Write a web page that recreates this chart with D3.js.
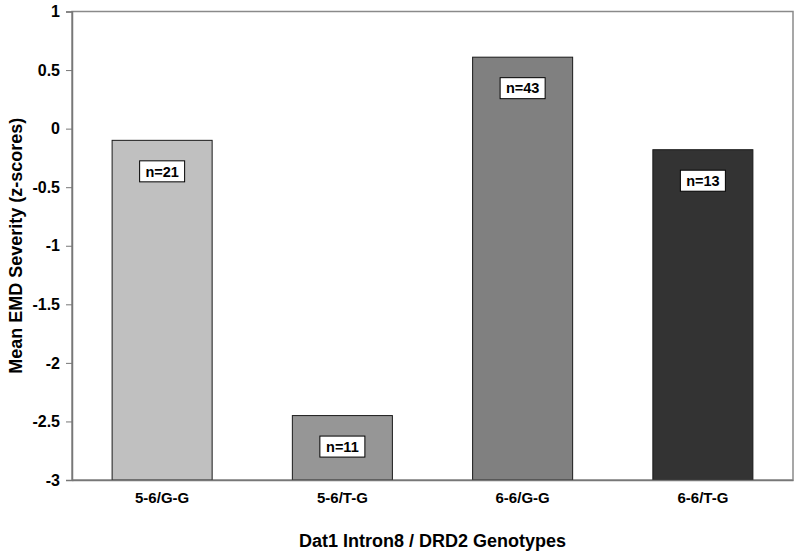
<!DOCTYPE html>
<html><head><meta charset="utf-8">
<script src="https://cdn.jsdelivr.net/npm/d3@7"></script>
<style>body{margin:0;background:#fff}svg{display:block}text{font-family:Arial,"Liberation Sans",sans-serif;font-weight:bold}</style>
</head><body>
<svg id="c" width="800" height="552"></svg>
<script>
const categories = ["5-6/G-G","5-6/T-G","6-6/G-G","6-6/T-G"];
const values = [-0.10, -2.45, 0.61, -0.18];
const nLabels = ["n=21","n=11","n=43","n=13"];
const colors = ["#C0C0C0","#969696","#808080","#333333"];
const yTicks = [1,0.5,0,-0.5,-1,-1.5,-2,-2.5,-3];

const svg = d3.select("#c");
const L=72, R=793, T=11.5, B=480;
const x = d3.scaleBand().domain(categories).range([L,R]).paddingInner(0.445).paddingOuter(0.2225);
const y = d3.scaleLinear().domain([-3,1]).range([B,T]);

// plot frame
svg.append("rect").attr("x",L).attr("y",T).attr("width",R-L).attr("height",B-T)
  .attr("fill","#fff").attr("stroke","#8a8a8a").attr("stroke-width",1.5);

// bars
svg.selectAll("rect.bar").data(values).join("rect").attr("class","bar")
  .attr("x",(d,i)=>x(categories[i])).attr("width",x.bandwidth())
  .attr("y",d=>y(d)).attr("height",d=>y(-3)-y(d))
  .attr("fill",(d,i)=>colors[i]).attr("stroke","#1a1a1a").attr("stroke-width",1);

// y axis
const ya = svg.append("g").attr("transform",`translate(${L},0)`)
  .call(d3.axisLeft(y).tickValues(yTicks).tickSize(6).tickFormat(d=>String(d)));
ya.select(".domain").attr("stroke","#777").attr("stroke-width",1.5);
ya.selectAll(".tick line").attr("stroke","#777");
ya.selectAll(".tick text").attr("font-size",16).attr("font-weight","bold").attr("fill","#000")
  .attr("font-family","Arial, 'Liberation Sans', sans-serif").attr("x",-12);

// x axis
const xa = svg.append("g").attr("transform",`translate(0,${B})`)
  .call(d3.axisBottom(x).tickSize(0).tickPadding(12));
xa.select(".domain").attr("stroke","#777").attr("stroke-width",1.5);
xa.selectAll(".tick text").attr("font-size",15).attr("font-weight","bold").attr("fill","#000")
  .attr("font-family","Arial, 'Liberation Sans', sans-serif");

// n labels
const lg = svg.selectAll("g.nl").data(values).join("g").attr("class","nl")
  .attr("transform",(d,i)=>`translate(${x(categories[i])+x.bandwidth()/2},${y(d)+31})`);
lg.append("rect").attr("x",-22.5).attr("y",-10.5).attr("width",45).attr("height",21)
  .attr("fill","#fff").attr("stroke","#000").attr("stroke-width",1);
lg.append("text").text((d,i)=>nLabels[i]).attr("text-anchor","middle").attr("dy","0.36em")
  .attr("font-size",14.5);

// axis titles
svg.append("text").attr("x",(L+R)/2).attr("y",547).attr("text-anchor","middle")
  .attr("font-size",18).text("Dat1 Intron8 / DRD2 Genotypes");
svg.append("text").attr("transform",`translate(22,${(T+B)/2}) rotate(-90)`).attr("text-anchor","middle")
  .attr("font-size",18).text("Mean EMD Severity (z-scores)");
</script>
</body></html>
